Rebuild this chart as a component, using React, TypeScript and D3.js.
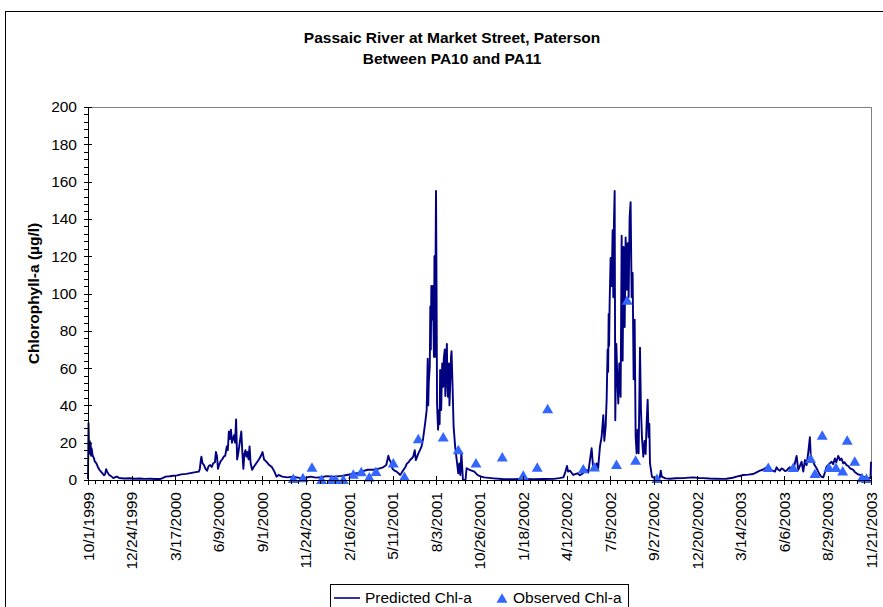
import React from 'react';
import * as d3 from 'd3';

const W = 883;
const H = 607;

const titleLines = ['Passaic River at Market Street, Paterson', 'Between PA10 and PA11'];
const yAxisTitle = 'Chlorophyll-a (µg/l)';
const xTickLabels = [
  '10/1/1999', '12/24/1999', '3/17/2000', '6/9/2000', '9/1/2000', '11/24/2000', '2/16/2001',
  '5/11/2001', '8/3/2001', '10/26/2001', '1/18/2002', '4/12/2002', '7/5/2002', '9/27/2002',
  '12/20/2002', '3/14/2003', '6/6/2003', '8/29/2003', '11/21/2003',
];
const yTickValues = [0, 20, 40, 60, 80, 100, 120, 140, 160, 180, 200];
const seriesNames = ['Predicted Chl-a', 'Observed Chl-a'];

// [days since 10/1/1999, chlorophyll-a µg/l]
const predicted: [number, number][] = [
  [0, 0.5], [1, 30.5], [2, 17], [3, 21], [4, 14], [5, 20], [6, 13], [7, 17], [9, 13], [11, 12], [13, 10],
  [16, 9], [19, 7], [22, 5.5], [25, 4.5], [28, 3.5], [31, 2.5], [33, 3], [35, 5.8], [37, 4.5], [40, 3],
  [44, 2.2], [49, 1], [53, 1.6], [56, 1.8], [60, 1.1], [70, 0.8], [80, 0.9], [90, 0.7], [100, 0.8],
  [110, 0.6], [120, 0.7], [130, 0.5], [139, 0.5], [145, 1.2], [150, 1.8], [158, 2.0], [165, 2.3],
  [172, 2.5], [180, 3.0], [190, 3.3], [200, 3.8], [208, 4.2], [214, 4.5], [216, 6], [218, 11],
  [219, 12.5], [221, 9], [224, 8], [227, 6], [230, 5], [233, 7.5], [236, 8], [239, 7], [242, 9],
  [245, 9.5], [247, 15], [249, 13], [251, 6], [253, 8], [256, 10], [259, 11], [262, 12.5], [265, 13],
  [268, 18], [270, 16], [272, 26], [274, 22], [276, 27], [278, 20], [280, 22], [282, 24], [284, 20],
  [286, 32.5], [288, 11], [290, 14], [292, 18], [294, 22], [296, 26], [298, 15], [300, 6], [302, 14],
  [304, 16], [306, 12.5], [308, 15], [310, 11], [312, 18], [314, 9], [317, 5.5], [320, 7], [325, 9],
  [330, 11], [334, 13], [337, 15], [340, 11], [344, 10], [350, 8], [355, 7], [360, 4.5], [364, 1.8],
  [368, 2.7], [375, 1.8], [385, 1.4], [396, 1.8], [410, 1], [420, 1.2], [430, 1.8], [440, 1.3],
  [450, 1.5], [461, 2.1], [475, 1.8], [490, 2.2], [500, 2.7], [510, 3.2], [520, 3.6], [528, 4.5],
  [540, 5.5], [550, 5.5], [560, 6], [570, 6.8], [576, 8], [580, 13], [582, 11], [584, 10],
  [588, 6], [592, 5], [596, 4.5], [600, 3.5], [603, 2.7], [606, 4], [609, 5.4], [613, 7], [616, 8.9],
  [619, 9.5], [622, 10.7], [625, 11.5], [628, 12.5], [631, 16], [633, 10.7], [635, 12], [638, 14.3],
  [641, 16], [644, 17.9], [647, 22], [651, 30.4], [654, 37.5], [656, 65], [657, 40], [658, 52], [660, 61],
  [661, 93], [662, 70], [663, 104], [664, 86], [666, 104], [668, 66], [669, 120], [670, 66], [672, 155],
  [673, 107], [674, 41], [676, 27], [678, 37.5], [679, 30], [680, 59], [682, 37.5], [684, 62.5], [686, 50],
  [687, 65], [689, 70], [690, 45], [691, 55], [693, 73], [694, 52], [695, 44.6], [697, 62.5], [698, 40],
  [699, 48], [701, 66], [702, 69], [704, 50], [706, 28.6], [709, 17.9], [712, 10.7], [715, 3.6], [717, 8.9],
  [719, 2.7], [721, 15], [724, 0], [729, 0], [731, 6.3], [737, 5.4], [746, 4.5], [752, 2.7], [757, 2],
  [765, 1.4], [783, 0.9], [800, 0.5], [820, 0.4], [840, 0.5], [860, 0.4], [880, 0.5], [900, 0.6], [910, 1],
  [918, 1.4], [922, 4.5], [925, 7.5], [927, 4.5], [930.7, 5], [937, 2.7], [945, 3.6], [950, 2.5],
  [955, 3.5], [962.9, 5.4], [966, 4], [969.3, 10.7], [972.5, 17], [975.8, 5.4], [979, 7],
  [982.2, 8.9], [985, 6], [988.6, 17.9], [991.8, 23.2], [995.1, 34.8], [997, 21], [999.6, 28.6],
  [1001.5, 43], [1003.4, 70], [1004.4, 58], [1005.4, 89], [1006.3, 72], [1007.3, 95], [1009.2, 119],
  [1011.2, 104], [1013.1, 134], [1014.4, 98], [1015.7, 139], [1017, 155], [1018.2, 32], [1020.2, 73],
  [1022.1, 55], [1024, 41], [1026, 62.5], [1028.5, 44.6], [1030.5, 131], [1031.4, 90], [1032.4, 64],
  [1034.3, 125], [1036.3, 82], [1038.2, 130], [1040.1, 102], [1042.1, 127], [1044, 98], [1045.9, 141],
  [1047.8, 149], [1049.8, 98], [1051.7, 111], [1053.6, 54], [1055.6, 86], [1057.5, 23.2], [1059.4, 14.3],
  [1061.4, 27], [1063.3, 14.3], [1065.9, 71], [1067.8, 37.5], [1069.7, 23], [1072.3, 12.5], [1074.9, 21],
  [1076.8, 14], [1078.7, 30], [1080.7, 43], [1082.6, 23], [1084, 30], [1085.2, 8.9], [1087.1, 5.4],
  [1089, 1.8], [1094.8, 0.9], [1100, 1], [1104, 1.2], [1106, 5], [1108, 1.8], [1115, 0.9],
  [1123.7, 0.7], [1135, 0.9], [1149.5, 1], [1160, 1.3], [1168.8, 1.4], [1180, 1.1], [1188.1, 1],
  [1200, 0.8], [1213.8, 0.7], [1225, 0.6], [1233.1, 0.7], [1245, 1.2], [1252.4, 1.8], [1260, 2.3],
  [1265.3, 2.7], [1275, 2.9], [1284.6, 3.2], [1290, 4], [1297.5, 5], [1303, 5.5], [1310.4, 6.8],
  [1313, 6], [1316.8, 5.7], [1322, 5], [1326.5, 4.5], [1329.7, 6.8], [1333, 5.5], [1336.1, 5],
  [1339, 6.2], [1342.5, 5.7], [1346, 4.8], [1349, 5], [1352, 6], [1355.4, 6.8], [1358, 6],
  [1361.8, 5.4], [1365, 9], [1368.3, 12.9], [1371.5, 5.4], [1374, 7], [1377.9, 9.8], [1381.2, 4.5],
  [1384.4, 10.7], [1387.6, 8], [1390.8, 14.7], [1392.5, 19], [1394, 22.9], [1395.5, 14],
  [1397.3, 11.6], [1400.5, 9.8], [1403, 8], [1406.9, 6.3], [1410, 4.5], [1413.3, 2.7], [1416, 1.8],
  [1419.8, 1.4], [1423, 4], [1426.2, 7.2], [1431, 8.5], [1435.9, 9.8], [1439, 8.5], [1442.3, 11.6],
  [1445, 9.5], [1448.7, 12.9], [1452, 10.7], [1455, 11.5], [1458.4, 8.9], [1461, 9.5], [1464.8, 8],
  [1468, 7.5], [1471.3, 6.3], [1474, 6], [1477.7, 5.4], [1481, 4.2], [1484.1, 3.6], [1487, 3],
  [1490.6, 2.7], [1497, 1.8], [1503.4, 1.2], [1509.9, 0.9], [1511, 1], [1512, 9.8],
];

const observed: [number, number][] = [
  [396.4, 0.9], [415, 1.4], [432.5, 7], [451.2, 0.4], [470.5, 0.4], [478.8, 0.4], [493, 0.4],
  [512.3, 3.2], [527.7, 4.5], [543.2, 1.8], [556.1, 4.7], [589.5, 9.3], [611.1, 2], [637.8, 22.3],
  [686, 23.2], [715, 16.4], [749.2, 9.3], [800, 12.5], [840.5, 2.7], [867.5, 7], [887.6, 38.4],
  [956.4, 6.1], [978, 7.1], [1020.5, 8.5], [1041.3, 96.5], [1057.5, 10.7], [1098.7, 0.9],
  [1313.6, 6.8], [1361.8, 6.8], [1395.4, 11.6], [1403.7, 3.6], [1417.8, 24.1], [1430.8, 6.8],
  [1444.3, 6.8], [1457.3, 5], [1466.1, 21.4], [1480.6, 10.2], [1494.5, 1.4], [1503.2, 0.9],
];

const TICK_STEP_DAYS = 84;
const MINOR_STEP_DAYS = 14;
const FONT = '"Liberation Sans", Arial, sans-serif';

export default function App() {
  const left = 88, right = 871, top = 107, bottom = 480;
  const lastDay = TICK_STEP_DAYS * (xTickLabels.length - 1);
  const x = d3.scaleLinear().domain([0, lastDay]).range([left, right]);
  const y = d3.scaleLinear().domain([0, 200]).range([bottom, top]);
  const majorX = d3.range(0, lastDay + 1, TICK_STEP_DAYS);
  const minorX = d3.range(0, lastDay + 1, MINOR_STEP_DAYS);
  const minorY = d3.range(0, 201, 4);

  const line = d3.line<[number, number]>().x(d => x(d[0])).y(d => y(d[1]));
  const triSize = 52;
  const tri = d3.symbol(d3.symbolTriangle, triSize)() as string;
  const triOff = Math.sqrt(triSize / (Math.sqrt(3) * 3)) / 2;
  const triColor = '#3366FF';
  const lineColor = '#000080';

  return (
    <svg width={W} height={H} style={{ position: 'absolute', left: 0, top: 0, background: '#fff' }}
      fontFamily={FONT}>
      <rect x={0} y={0} width={W} height={H} fill="#fff" />
      <rect x={5.5} y={11.5} width={W + 20} height={H + 20} fill="none" stroke="#000" strokeWidth={1} />
      {titleLines.map((t, i) => (
        <text key={i} x={452} y={43 + i * 21} textAnchor="middle" fontWeight="bold" fontSize={15.5}>{t}</text>
      ))}
      {/* plot frame */}
      <line x1={left} x2={right} y1={top + 0.5} y2={top + 0.5} stroke="#808080" />
      <line x1={right + 0.5} x2={right + 0.5} y1={top} y2={bottom} stroke="#808080" />

      {/* series */}
      <path d={line(predicted) || ''} fill="none" stroke={lineColor} strokeWidth={1.9} strokeLinejoin="round" />
      {observed.map((d, i) => (
        <path key={i} d={tri} transform={`translate(${x(d[0])},${y(d[1]) + triOff})`} fill={triColor} />
      ))}

      {/* y axis */}
      <line x1={left + 0.5} x2={left + 0.5} y1={top} y2={bottom} stroke="#000" />
      {minorY.map(v => (
        <line key={'ym' + v} x1={left - 4} x2={left} y1={Math.round(y(v)) + 0.5} y2={Math.round(y(v)) + 0.5} stroke="#000" />
      ))}
      {yTickValues.map(v => (
        <g key={'y' + v}>
          <line x1={left - 4} x2={left + 4} y1={Math.round(y(v)) + 0.5} y2={Math.round(y(v)) + 0.5} stroke="#000" />
          <text x={left - 11} y={y(v)} dy="0.35em" textAnchor="end" fontSize={15.5}>{v}</text>
        </g>
      ))}
      <text transform={`translate(39,${(top + bottom) / 2}) rotate(-90)`} textAnchor="middle" fontWeight="bold" fontSize={15.5}>{yAxisTitle}</text>

      {/* x axis */}
      <line x1={left} x2={right} y1={bottom + 0.5} y2={bottom + 0.5} stroke="#000" />
      {minorX.map(v => (
        <line key={'xm' + v} x1={Math.round(x(v)) + 0.5} x2={Math.round(x(v)) + 0.5} y1={bottom} y2={bottom + 4} stroke="#000" />
      ))}
      {majorX.map((v, i) => (
        <g key={'x' + v}>
          <line x1={Math.round(x(v)) + 0.5} x2={Math.round(x(v)) + 0.5} y1={bottom - 4} y2={bottom + 5} stroke="#000" />
          <text transform={`translate(${x(v) + 5.5},${bottom + 12}) rotate(-90)`} textAnchor="end" fontSize={15.5}>{xTickLabels[i]}</text>
        </g>
      ))}

      {/* legend */}
      <rect x={330.5} y={584.5} width={298} height={40} fill="#fff" stroke="#000" />
      <line x1={334} x2={360} y1={598} y2={598} stroke={lineColor} strokeWidth={1.6} />
      <text x={365} y={603} fontSize={15.5}>{seriesNames[0]}</text>
      <path d={tri} transform={`translate(502,${598 + triOff})`} fill={triColor} />
      <text x={513} y={603} fontSize={15.5}>{seriesNames[1]}</text>
    </svg>
  );
}
